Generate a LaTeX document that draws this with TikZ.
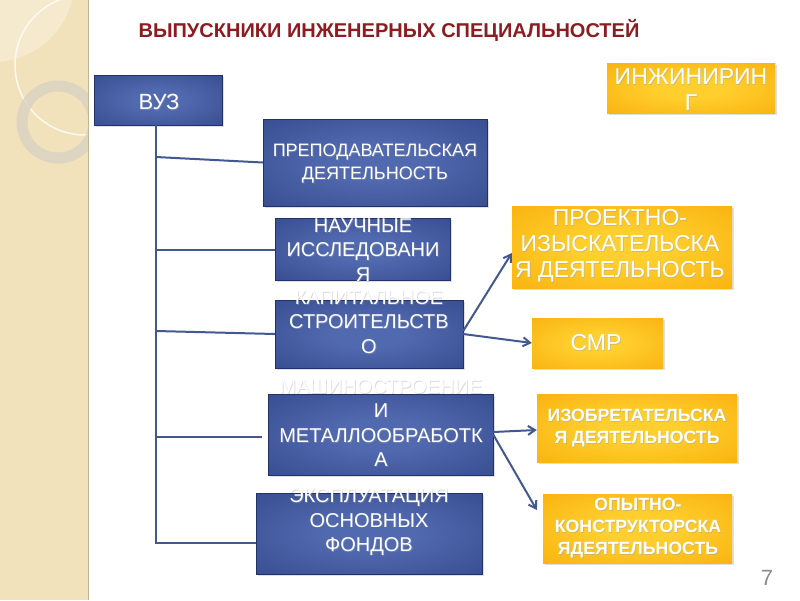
\documentclass[tikz,border=0pt]{standalone}
\usepackage{fontspec}
\setmainfont{Liberation Sans}
\usetikzlibrary{arrows.meta,positioning,shadows,calc}
\definecolor{vzdark}{HTML}{2B3F82}
\definecolor{vzlight}{HTML}{5169AF}
\definecolor{engdark}{HTML}{F6A400}
\definecolor{englight}{HTML}{FFCF2E}
\definecolor{vzline}{HTML}{42598F}
\definecolor{ttlred}{HTML}{8C1C20}
\definecolor{sidebg}{HTML}{F2E2BC}
\definecolor{sidelt}{HTML}{F6EACE}
\definecolor{ringgrey}{HTML}{D9D2C2}
\definecolor{pagegrey}{HTML}{8F897E}
\definecolor{txtshade}{HTML}{9AA0AE}
\pgfdeclareradialshading{vzglow}{\pgfpoint{0bp}{0bp}}{color(0bp)=(vzlight); color(10bp)=(vzlight); color(50bp)=(vzdark)}
\pgfdeclareradialshading{engglow}{\pgfpoint{0bp}{0bp}}{color(0bp)=(englight); color(10bp)=(englight); color(50bp)=(engdark)}
\tikzset{
  vzbox/.style={rectangle,shade,shading=vzglow,draw=vzdark!80!black,line width=0.4pt,
                drop shadow={shadow xshift=1.5pt,shadow yshift=-1.5pt,opacity=0.25}},
  engbox/.style={rectangle,shade,shading=engglow,
                 drop shadow={shadow xshift=1.5pt,shadow yshift=-1.5pt,opacity=0.25}},
  txt/.style={text=white,align=center,inner sep=0pt,font=\fontsize{20}{24.5}\selectfont},
  txtv/.style={txt,font=\fontsize{22}{24}\selectfont},
  txtp/.style={txt,font=\fontsize{18}{23}\selectfont},
  txto/.style={txt,font=\fontsize{23}{26}\selectfont},
  txtb/.style={txt,font=\bfseries\fontsize{17.7}{22}\selectfont},
  link/.style={vzline,line width=2pt},
  ar/.style={link,-{Straight Barb[length=7pt,width=9pt]}},
}
\newcommand{\boxtxt}[4][txt]{%
  \node[#1,text=txtshade,opacity=0.4] at ([shift={(0.8pt,-0.8pt)}]#3) {#4};
  \node[#1] (#2) at (#3) {#4};}

\begin{document}
\begin{tikzpicture}[x=1pt,y=-1pt]
  \useasboundingbox (0,0) rectangle (800,600);
  \fill[white] (0,0) rectangle (800,600);
  % side strip
  \fill[sidebg] (0,0) rectangle (88,600);
  \begin{scope}
    \clip (0,0) rectangle (88,600);
    \fill[sidelt] (0,0) -- (72,0) .. controls (62,40) and (30,58) .. (0,62) -- cycle;
    \draw[white,line width=1.5pt,opacity=0.8] (85,65) circle[radius=70];
    \draw[ringgrey,line width=11pt,opacity=0.8] (58,122) circle[radius=36];
  \end{scope}
  \draw[sidebg!80!black,line width=0.6pt] (88,0) -- (88,600);

  \node[font=\bfseries\fontsize{20}{22}\selectfont,text=ttlred] (title) at (389,30)
    {ВЫПУСКНИКИ ИНЖЕНЕРНЫХ СПЕЦИАЛЬНОСТЕЙ};

  \node[vzbox,minimum width=128pt,minimum height=50pt] (vuz) at (158,100) {};
  \node[vzbox,minimum width=224pt,minimum height=87pt] (prep) at (375,162.5) {};
  \node[vzbox,minimum width=175pt,minimum height=62pt] (nauch) at (362.5,249) {};
  \node[vzbox,minimum width=188pt,minimum height=68pt] (kap) at (369,334) {};
  \node[vzbox,minimum width=225pt,minimum height=81pt] (mash) at (380.5,434.5) {};
  \node[vzbox,minimum width=226pt,minimum height=81pt] (eks) at (369,533.5) {};
  \node[engbox,minimum width=168pt,minimum height=50pt] (eng) at (691,88) {};
  \node[engbox,minimum width=220pt,minimum height=82pt] (proj) at (622,247) {};
  \node[engbox,minimum width=131pt,minimum height=50pt] (smr) at (597.5,343) {};
  \node[engbox,minimum width=200pt,minimum height=68pt] (izob) at (637,428) {};
  \node[engbox,minimum width=189pt,minimum height=69pt] (opyt) at (637.5,528.5) {};

  \coordinate (j1) at (156,157);
  \coordinate (j2) at (156,250);
  \coordinate (j3) at (156,331);
  \coordinate (j4) at (156,437);
  \coordinate (j4e) at (262,437);
  \coordinate (j5) at (156,543);
  \draw[link] (j1 |- vuz.south) -- (j5) -- (j5 -| eks.west);
  \draw[link] (j1) -- (prep.west);
  \draw[link] (j2) -- (j2 -| nauch.west);
  \draw[link] (j3) -- (kap.west);
  \draw[link] (j4) -- (j4e);
  \draw[ar] ([yshift=3pt]kap.east) -- ([yshift=-6pt]proj.west);
  \draw[ar] (kap.east) -- (smr.west);
  \draw[ar] ([yshift=2.5pt]mash.east) -- ([yshift=-2pt]izob.west);
  \draw[ar] (mash.east) -- ([xshift=-6pt,yshift=18.5pt]opyt.west);

  \boxtxt[txtv]{vuz-t}{159,102}{ВУЗ}
  \boxtxt[txtp]{prep-t}{375,164}{ПРЕПОДАВАТЕЛЬСКАЯ\\ДЕЯТЕЛЬНОСТЬ}
  \boxtxt{nauch-t}{363,250}{НАУЧНЫЕ\\ИССЛЕДОВАНИ\\Я}
  \boxtxt{kap-t}{369,322}{КАПИТАЛЬНОЕ\\СТРОИТЕЛЬСТВ\\О}
  \boxtxt{mash-t}{381,423}{МАШИНОСТРОЕНИЕ\\И\\МЕТАЛЛООБРАБОТК\\А}
  \boxtxt{eks-t}{369,522}{ЭКСПЛУАТАЦИЯ\\ОСНОВНЫХ\\ФОНДОВ}
  \boxtxt[txto]{eng-t}{691,90}{ИНЖИНИРИН\\Г}
  \boxtxt[txto]{proj-t}{620,246}{ПРОЕКТНО-\\ИЗЫСКАТЕЛЬСКА\\Я ДЕЯТЕЛЬНОСТЬ}
  \boxtxt[txto]{smr-t}{596,343}{СМР}
  \boxtxt[txtb]{izob-t}{637,428}{ИЗОБРЕТАТЕЛЬСКА\\Я ДЕЯТЕЛЬНОСТЬ}
  \boxtxt[txtb]{opyt-t}{638,528}{ОПЫТНО-\\КОНСТРУКТОРСКА\\ЯДЕЯТЕЛЬНОСТЬ}

  \node[text=pagegrey,font=\fontsize{22}{22}\selectfont] (pg) at (767,578) {7};
\end{tikzpicture}
\end{document}
